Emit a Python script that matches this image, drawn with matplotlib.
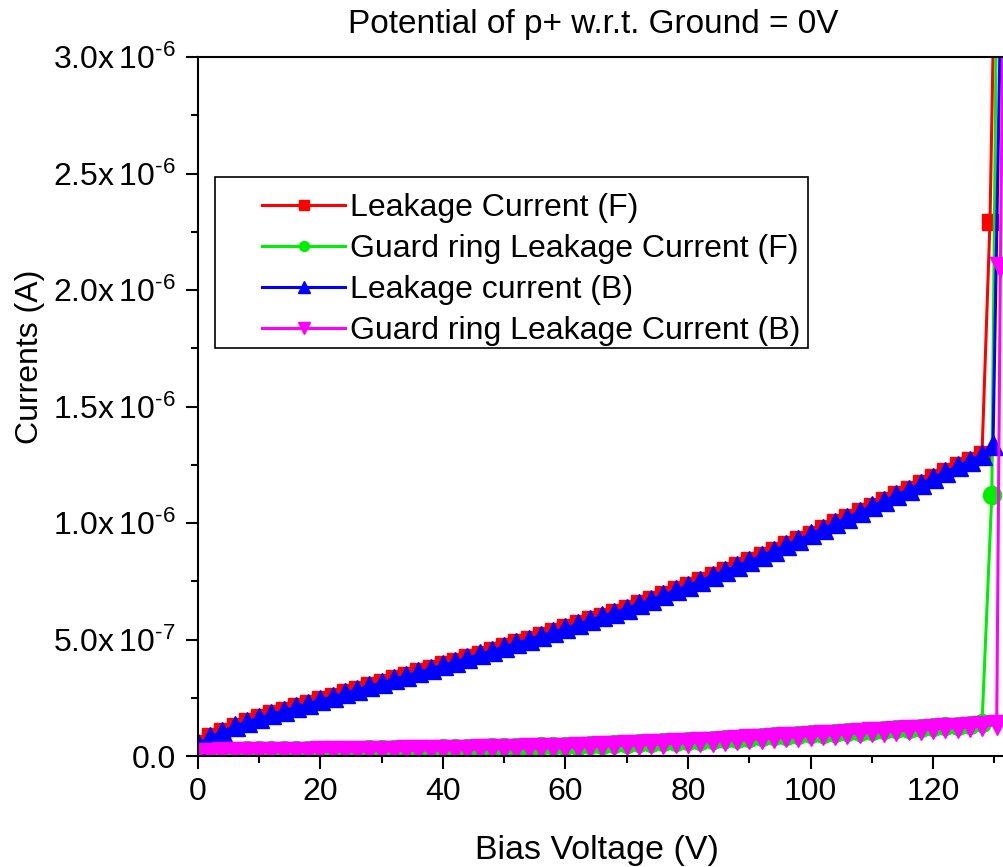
import numpy as np
import matplotlib
matplotlib.use("Agg")
import matplotlib.pyplot as plt
from matplotlib.patches import Rectangle
from matplotlib.ticker import MultipleLocator, FuncFormatter

plt.rcParams['font.family'] = ['Liberation Sans', 'DejaVu Sans']
plt.rcParams['mathtext.fontset'] = 'custom'
plt.rcParams['mathtext.rm'] = 'Liberation Sans'
plt.rcParams['mathtext.default'] = 'regular'

# bias sweep, 2 V steps
bias = list(range(0, 129, 2))

# currents in units of 1e-6 A
leak_f = [0.054, 0.084, 0.109, 0.131, 0.150, 0.167, 0.183, 0.198, 0.213, 0.228,
          0.243, 0.258, 0.273, 0.288, 0.303, 0.318, 0.333, 0.348, 0.363, 0.378,
          0.393, 0.408, 0.424, 0.440, 0.456, 0.472, 0.488, 0.504, 0.520, 0.536,
          0.552, 0.569, 0.586, 0.603, 0.620, 0.637, 0.656, 0.675, 0.695, 0.715,
          0.735, 0.756, 0.777, 0.798, 0.819, 0.841, 0.863, 0.885, 0.908, 0.931,
          0.955, 0.979, 1.003, 1.027, 1.051, 1.075, 1.099, 1.123, 1.147, 1.172,
          1.197, 1.222, 1.247, 1.272, 1.297]
leak_f_tail_v = [129.3, 130.2]
leak_f_tail = [2.29, 3.6]

guard_f = [0.022, 0.022, 0.023, 0.023, 0.024, 0.024, 0.025, 0.025, 0.026, 0.026,
           0.027, 0.027, 0.028, 0.028, 0.029, 0.030, 0.030, 0.031, 0.032, 0.032,
           0.033, 0.034, 0.035, 0.036, 0.037, 0.038, 0.039, 0.040, 0.041, 0.042,
           0.043, 0.045, 0.047, 0.049, 0.051, 0.053, 0.055, 0.057, 0.059, 0.061,
           0.063, 0.066, 0.069, 0.072, 0.075, 0.078, 0.081, 0.084, 0.087, 0.090,
           0.093, 0.096, 0.099, 0.102, 0.105, 0.108, 0.111, 0.114, 0.117, 0.120,
           0.123, 0.127, 0.131, 0.135, 0.140]
guard_f_tail_v = [129.6, 130.5]
guard_f_tail = [1.12, 3.6]

leak_b = [0.050, 0.080, 0.105, 0.127, 0.146, 0.163, 0.179, 0.194, 0.209, 0.224,
          0.239, 0.254, 0.269, 0.284, 0.299, 0.314, 0.329, 0.344, 0.359, 0.374,
          0.389, 0.404, 0.420, 0.436, 0.452, 0.468, 0.484, 0.500, 0.516, 0.532,
          0.548, 0.565, 0.582, 0.599, 0.616, 0.633, 0.652, 0.671, 0.691, 0.711,
          0.731, 0.752, 0.773, 0.794, 0.815, 0.837, 0.859, 0.881, 0.904, 0.927,
          0.951, 0.975, 0.999, 1.023, 1.047, 1.071, 1.095, 1.119, 1.143, 1.168,
          1.193, 1.218, 1.243, 1.268, 1.293]
leak_b_tail_v = [129.8, 131.3]
leak_b_tail = [1.335, 3.6]

guard_b = [0.015, 0.015, 0.016, 0.016, 0.017, 0.017, 0.018, 0.018, 0.019, 0.019,
           0.020, 0.020, 0.021, 0.021, 0.022, 0.023, 0.023, 0.024, 0.025, 0.025,
           0.026, 0.027, 0.028, 0.029, 0.030, 0.031, 0.032, 0.033, 0.034, 0.035,
           0.036, 0.038, 0.040, 0.042, 0.044, 0.046, 0.048, 0.050, 0.052, 0.054,
           0.056, 0.059, 0.062, 0.065, 0.068, 0.071, 0.074, 0.077, 0.080, 0.083,
           0.086, 0.089, 0.092, 0.095, 0.098, 0.101, 0.104, 0.107, 0.110, 0.113,
           0.116, 0.119, 0.122, 0.125, 0.128]
guard_b_tail_v = [130.4, 131.0, 131.6]
guard_b_tail = [0.135, 2.10, 3.6]

series = [
    ("Leakage Current (F)", leak_f, leak_f_tail_v, leak_f_tail, '#ff0000', 's', 12),
    ("Guard ring Leakage Current (F)", guard_f, guard_f_tail_v, guard_f_tail, '#00ee00', 'o', 13),
    ("Leakage current (B)", leak_b, leak_b_tail_v, leak_b_tail, '#0000ff', '^', 15),
    ("Guard ring Leakage Current (B)", guard_b, guard_b_tail_v, guard_b_tail, '#ff00ff', 'v', 15),
]


def sci(v, pos):
    if abs(v) < 1e-12:
        return '0.0'
    e = int(np.floor(np.log10(abs(v)) + 1e-9))
    m = v / 10 ** e
    return r'$\mathregular{%.1fx\,10^{%s}}$' % (m, str(e).replace('-', '\u2010'))


fig = plt.figure(figsize=(10.04, 8.67), dpi=100)
ax = fig.add_axes([0.1972, 0.128, 0.8236, 0.8062])

for name, main, tv, tail, col, mk, ms in series:
    x = np.array(bias + tv, dtype=float)
    y = np.array(main + tail) * 1e-6
    ax.plot(x, y, color=col, lw=2.2, marker=mk, ms=ms, mec=col, mfc=col, label=name)

ax.set_xlim(0, 135)
ax.set_ylim(0, 3.0e-6)
ax.xaxis.set_major_locator(MultipleLocator(20))
ax.xaxis.set_minor_locator(MultipleLocator(10))
ax.yaxis.set_major_locator(MultipleLocator(0.5e-6))
ax.yaxis.set_minor_locator(MultipleLocator(0.25e-6))
ax.yaxis.set_major_formatter(FuncFormatter(sci))

for s in ax.spines.values():
    s.set_linewidth(1.5)
ax.tick_params(which='major', direction='out', length=9, width=1.5, labelsize=23, pad=6)
ax.tick_params(which='minor', direction='out', length=5, width=1.5)
ax.tick_params(axis='y', which='major', pad=7)

# legend box drawn separately so the padding can be uneven
ax.add_patch(Rectangle((0.0206, 0.5837), 0.717, 0.2446, transform=ax.transAxes,
                       fill=True, fc='white', ec='black', lw=1.2, zorder=5))
leg = ax.legend(loc='upper left', bbox_to_anchor=(0.0774, 0.805), borderaxespad=0,
                borderpad=0, frameon=False, fontsize=23, handlelength=2.6,
                handletextpad=0.15, labelspacing=0.34, markerscale=0.55)
leg.set_zorder(6)

fig.text(593 / 1004, 1 - 25 / 867, "Potential of p+ w.r.t. Ground = 0V",
         fontsize=24, ha='center', va='center')
fig.text(597 / 1004, 1 - 850 / 867, "Bias Voltage (V)", fontsize=24.5,
         ha='center', va='center')
fig.text(30 / 1004, 1 - 357 / 867, "Currents (A)", fontsize=23, rotation=90,
         ha='center', va='center')

fig.savefig("out.png", dpi=100)
